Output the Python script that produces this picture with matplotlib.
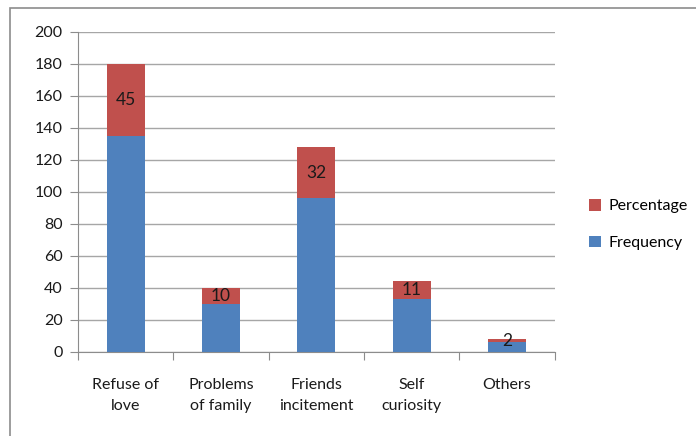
import numpy as np
import matplotlib.pyplot as plt
from matplotlib.patches import Rectangle

categories = ["Refuse of\nlove", "Problems\nof family", "Friends\nincitement", "Self\ncuriosity", "Others"]
frequency = [135, 30, 96, 33, 6]
percentage = [45, 10, 32, 11, 2]

plt.rcParams['font.family'] = ['Lato', 'DejaVu Sans']
fs = 11.5

fig = plt.figure(figsize=(6.96, 4.36), dpi=100)
ax = fig.add_axes([0.112, 0.193, 0.685, 0.734])

# outer chart frame (cut off at right and bottom like the source)
fig.patches.append(Rectangle((10 / 696, -0.05), 1.0, 1 - 8 / 436 + 0.05,
                             transform=fig.transFigure, fill=False,
                             edgecolor="#8c8c8c", linewidth=1.2))

x = np.arange(len(categories))
blue = "#4F81BD"
red = "#C0504D"
ax.bar(x, frequency, width=0.4, color=blue, label="Frequency", zorder=3)
ax.bar(x, percentage, width=0.4, bottom=frequency, color=red, label="Percentage", zorder=3)

for xi, f, p in zip(x, frequency, percentage):
    ax.text(xi, f + p / 2, str(p), ha="center", va="center", fontsize=12.5, color="#1a1a1a", zorder=4)

ax.set_xlim(-0.5, len(categories) - 0.5)
ax.set_ylim(0, 200)
ax.set_yticks(range(0, 201, 20))
ax.yaxis.grid(True, color="#a6a6a6", linewidth=1)
ax.set_axisbelow(True)

ax.set_xticks(np.arange(-0.5, len(categories), 1))
ax.set_xticklabels([])
ax.set_xticks(x, minor=True)
ax.set_xticklabels(categories, minor=True, fontsize=fs, linespacing=1.65, color="#1a1a1a")
ax.tick_params(axis="x", which="minor", length=0, pad=19)
ax.tick_params(axis="x", which="major", length=6, color="#8c8c8c")
ax.tick_params(axis="y", length=6, color="#8c8c8c", labelsize=fs, labelcolor="#1a1a1a", pad=5)

for s in ["top", "right"]:
    ax.spines[s].set_visible(False)
for s in ["left", "bottom"]:
    ax.spines[s].set_color("#8c8c8c")

handles, labels = ax.get_legend_handles_labels()
fig.legend(handles[::-1], labels[::-1], loc="center left", bbox_to_anchor=(0.825, 0.485),
           frameon=False, fontsize=fs, handlelength=0.75, handleheight=0.75,
           labelspacing=1.4, handletextpad=0.5)

fig.savefig("out.png", dpi=100)
